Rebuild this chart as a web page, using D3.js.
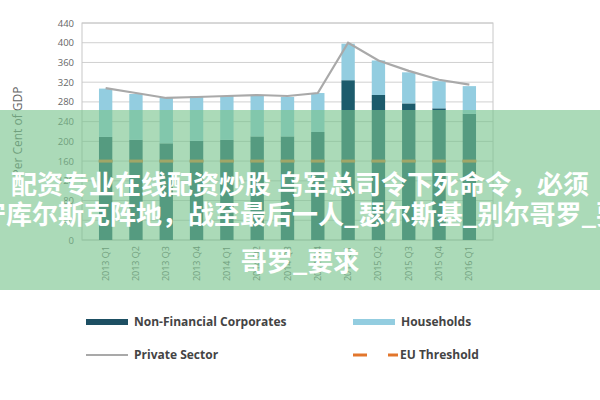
<!DOCTYPE html>
<html><head><meta charset="utf-8">
<script src="https://cdn.jsdelivr.net/npm/d3@7"></script>
<style>body{margin:0;background:#fff}svg{display:block}</style>
</head><body>
<svg id="c" width="600" height="400"></svg>
<script>
const categories=["2013 Q1","2013 Q2","2013 Q3","2013 Q4","2014 Q1","2014 Q2","2014 Q3","2014 Q4","2015 Q1","2015 Q2","2015 Q3","2015 Q4","2016 Q1"];
const nfc=[209,203,196,201,203,210,210,219,324,294,277,267,256];
const households=[98,93,92,91,89,82,80,79,74,70,63,55,56];
const privateSector=[308,298,288,290,292,294,292,298,400,364,343,325,315];
const euThreshold=160;
const yTicks=[0,40,80,120,160,200,240,280,320,360,400,440];

const svg=d3.select("#c");
const m={l:82,r:493,t:23,b:240};
const x=d3.scaleBand().domain(categories).range([m.l,m.r]).padding(0.56);
const y=d3.scaleLinear().domain([0,440]).range([m.b,m.t]);

svg.append("g").selectAll("line").data(yTicks).join("line")
 .attr("x1",m.l).attr("x2",m.r).attr("y1",d=>y(d)).attr("y2",d=>y(d))
 .attr("stroke","#d0d0d0").attr("stroke-width",1);
svg.append("rect").attr("x",m.l).attr("y",m.t).attr("width",m.r-m.l).attr("height",m.b-m.t)
 .attr("fill","none").attr("stroke","#c8c8c8");

const ya=svg.append("g").attr("transform",`translate(${m.l-6},0)`)
 .call(d3.axisLeft(y).tickValues(yTicks).tickSize(0).tickPadding(2));
ya.select(".domain").remove();
ya.selectAll("text").attr("fill","#666").attr("font-size",9.5).attr("font-family","Open Sans");

svg.append("text").attr("transform",`translate(22,${(m.t+m.b)/2}) rotate(-90)`)
 .attr("text-anchor","middle").attr("font-family","Open Sans").attr("font-size",12)
 .attr("fill","#666").text("Per Cent of GDP");

const g=svg.append("g");
g.selectAll(".n").data(categories).join("rect")
 .attr("x",d=>x(d)).attr("width",x.bandwidth())
 .attr("y",(d,i)=>y(nfc[i])).attr("height",(d,i)=>y(0)-y(nfc[i])).attr("fill","#1d5b6c");
g.selectAll(".h").data(categories).join("rect")
 .attr("x",d=>x(d)).attr("width",x.bandwidth())
 .attr("y",(d,i)=>y(nfc[i]+households[i])).attr("height",(d,i)=>y(nfc[i])-y(nfc[i]+households[i])).attr("fill","#93cde0");

g.selectAll(".eu").data(categories).join("line")
 .attr("x1",d=>x(d)+x.bandwidth()/2-7).attr("x2",d=>x(d)+x.bandwidth()/2+7)
 .attr("y1",y(euThreshold)).attr("y2",y(euThreshold))
 .attr("stroke","#e2762c").attr("stroke-width",3);

const line=d3.line().x((d,i)=>x(categories[i])+x.bandwidth()/2).y(d=>y(d));
g.append("path").datum(privateSector).attr("d",line).attr("fill","none")
 .attr("stroke","#a9a9a9").attr("stroke-width",2.2);

svg.append("g").selectAll("text").data(categories).join("text")
 .attr("transform",d=>`translate(${x(d)+x.bandwidth()/2+3},${m.b+6}) rotate(-90)`)
 .attr("text-anchor","end").attr("font-family","Open Sans").attr("font-size",9)
 .attr("fill","#666").text(d=>d);

// legend
const lg=svg.append("g").attr("font-family","Open Sans").attr("font-size",12).attr("font-weight","bold").attr("fill","#444");
lg.append("rect").attr("x",86).attr("y",319).attr("width",42).attr("height",6).attr("fill","#1d4f63");
lg.append("text").attr("x",134).attr("y",326).text("Non-Financial Corporates");
lg.append("rect").attr("x",353).attr("y",319).attr("width",42).attr("height",6).attr("fill","#93cde0");
lg.append("text").attr("x",401).attr("y",326).text("Households");
lg.append("line").attr("x1",86).attr("x2",128).attr("y1",355).attr("y2",355).attr("stroke","#a9a9a9").attr("stroke-width",2);
lg.append("text").attr("x",134).attr("y",359).text("Private Sector");
lg.append("line").attr("x1",353).attr("x2",367).attr("y1",355).attr("y2",355).attr("stroke","#e2762c").attr("stroke-width",3);
lg.append("line").attr("x1",388).attr("x2",398).attr("y1",355).attr("y2",355).attr("stroke","#e2762c").attr("stroke-width",3);
lg.append("text").attr("x",400).attr("y",359).text("EU Threshold");

// overlay banner
svg.append("rect").attr("x",0).attr("y",110).attr("width",600).attr("height",180).attr("fill","rgba(120,195,140,0.62)");
const ov=svg.append("g").attr("font-family","Noto Sans CJK SC").attr("font-size",26).attr("font-weight","bold")
 .attr("fill","#fff").attr("text-anchor","middle");
ov.append("text").attr("x",300).attr("y",194).text("配资专业在线配资炒股 乌军总司令下死命令，必须");
ov.append("text").attr("x",288).attr("y",224).text("坚守库尔斯克阵地，战至最后一人_瑟尔斯基_别尔哥罗_要");
ov.append("text").attr("x",300).attr("y",271).text("哥罗_要求");
</script>
</body></html>
